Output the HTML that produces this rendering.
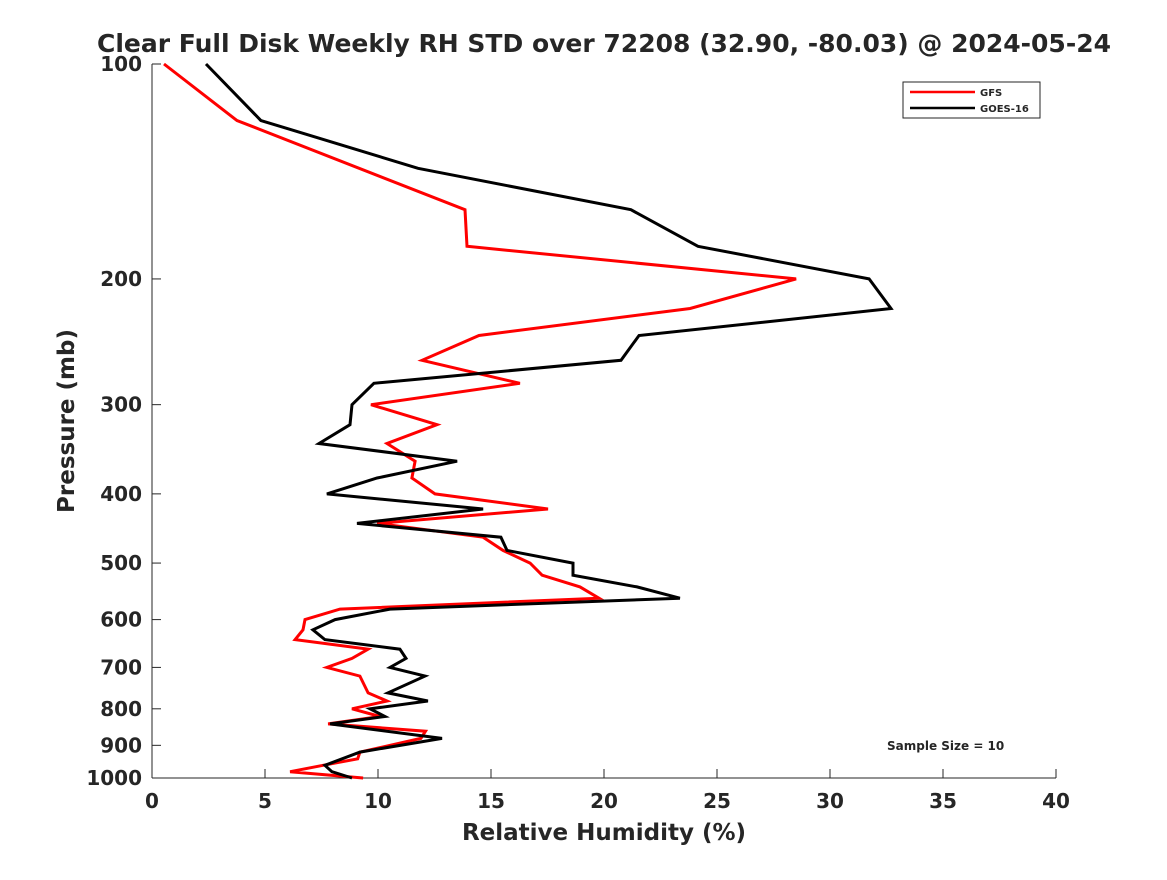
<!DOCTYPE html>
<html><head><meta charset="utf-8"><style>
body{margin:0;background:#fff;}
svg text{font-family:"DejaVu Sans","Liberation Sans",sans-serif;font-weight:bold;fill:#262626;}
</style></head><body>
<svg id="chart" width="1167" height="875" xmlns="http://www.w3.org/2000/svg">
<rect width="1167" height="875" fill="#fff"/>
<text x="604" y="52" font-size="25" text-anchor="middle" fill="#000">Clear Full Disk Weekly RH STD over 72208 (32.90, -80.03) @ 2024-05-24</text>
<g id="axes"></g>
<g id="series"></g>
<g>
<rect x="903" y="82" width="137" height="36" fill="#fff" stroke="#262626" stroke-width="1"/>
<line x1="910" y1="92" x2="975" y2="92" stroke="#f00" stroke-width="2.5"/>
<text x="980" y="96" font-size="10">GFS</text>
<line x1="910" y1="108" x2="975" y2="108" stroke="#000" stroke-width="2.5"/>
<text x="980" y="112" font-size="10">GOES-16</text>
</g>
<text x="887" y="750" font-size="12" fill="#000">Sample Size = 10</text>
<text x="604" y="840" font-size="23" text-anchor="middle">Relative Humidity (%)</text>
<text transform="translate(74,421) rotate(-90)" font-size="23" text-anchor="middle">Pressure (mb)</text>
</svg>
<script>
const xTicks=[0,5,10,15,20,25,30,35,40];
const yTicks=[100,200,300,400,500,600,700,800,900,1000];
const goesP=[100,120,140,160,180,200,220,240,260,280,300,320,340,360,380,400,420,440,460,480,500,520,540,560,580,600,620,640,660,680,700,720,760,780,800,820,840,880,920,960,980,1000];
const goesRH=[2.39,4.82,11.77,21.19,24.16,31.73,32.70,21.55,20.75,9.82,8.85,8.76,7.39,13.50,9.96,7.74,14.65,9.07,15.44,15.71,18.63,18.63,21.46,23.36,10.53,8.10,7.12,7.65,10.97,11.24,10.53,12.08,10.44,12.21,9.65,10.31,7.88,12.83,9.20,7.65,7.96,8.85];
const gfsP=[100,120,160,180,200,220,240,260,280,300,320,340,360,380,400,420,440,460,480,500,520,540,560,580,600,620,640,660,680,700,720,760,780,800,820,840,860,880,920,940,960,980,1000];
const gfsRH=[0.53,3.76,13.85,13.94,28.50,23.81,14.47,11.95,16.28,9.69,12.61,10.40,11.64,11.50,12.52,17.52,9.96,14.65,15.53,16.73,17.26,18.94,19.78,8.32,6.77,6.68,6.33,9.56,8.85,7.74,9.20,9.56,10.4,8.85,10.09,7.79,12.1,11.9,9.20,9.1,7.57,6.11,9.34];

const NS="http://www.w3.org/2000/svg";
const X0=152,X1=1056,Y0=64,Y1=778;
const xs=v=>X0+(v-0)/(40-0)*(X1-X0);
const ys=p=>Y0+(Math.log10(p)-2)/(3-2)*(Y1-Y0);
function mk(t,a,parent){const e=document.createElementNS(NS,t);for(const k in a)e.setAttribute(k,a[k]);parent.appendChild(e);return e;}
const axes=document.getElementById('axes');
const xl=mk('line',{x1:X0,y1:Y1,x2:X1,y2:Y1,stroke:'#262626','stroke-width':1},axes);


const yl=mk('line',{x1:X0,y1:Y0,x2:X0,y2:Y1,stroke:'#262626','stroke-width':1},axes);


xTicks.forEach(v=>{
  const t=mk('line',{x1:xs(v),y1:Y1,x2:xs(v),y2:Y1-9,stroke:'#262626'},axes);
  
  
  const l=mk('text',{x:xs(v),y:Y1+30,'font-size':20,'text-anchor':'middle'},axes);
  l.textContent=v;
  
  
});
yTicks.forEach(p=>{
  const t=mk('line',{x1:X0,y1:ys(p),x2:X0+9,y2:ys(p),stroke:'#262626'},axes);
  
  
  const l=mk('text',{x:X0-10,y:ys(p)+7,'font-size':20,'text-anchor':'end'},axes);
  l.textContent=p;
  
  
});
const ser=document.getElementById('series');
function line(P,R,color,name){
  const pts=P.map((p,i)=>xs(R[i]).toFixed(1)+','+ys(p).toFixed(1)).join(' ');
  const e=mk('polyline',{points:pts,fill:'none',stroke:color,'stroke-width':3,'stroke-linejoin':'miter'},ser);
  
  
}
line(gfsP,gfsRH,'#f00','gfs-line');
line(goesP,goesRH,'#000','goes16-line');
</script>
</body></html>
